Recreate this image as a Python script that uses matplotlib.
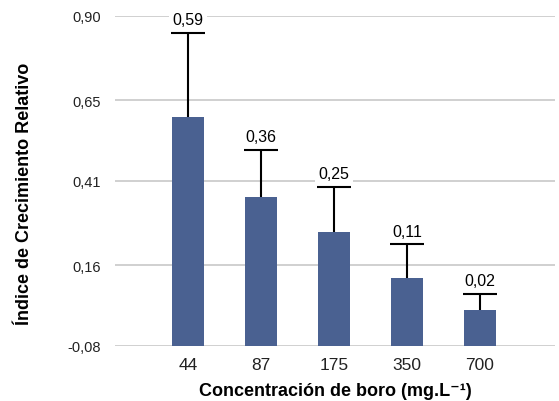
import matplotlib
matplotlib.use("Agg")
import matplotlib.pyplot as plt

plt.rcParams['font.family'] = ['Liberation Sans', 'DejaVu Sans']

# data
concentraciones = ['44', '87', '175', '350', '700']
icr = [0.599, 0.362, 0.257, 0.121, 0.026]
icr_err = [0.251, 0.141, 0.135, 0.101, 0.049]
etiquetas = ['0,59', '0,36', '0,25', '0,11', '0,02']
y_ticks = [-0.08, 0.16, 0.41, 0.65, 0.90]
y_tick_labels = ['-0,08', '0,16', '0,41', '0,65', '0,90']

base = -0.08
bar_color = '#4a6191'

fig = plt.figure(figsize=(5.59, 4.02), dpi=100)
ax = fig.add_axes([0.206, 0.137, 0.787, 0.821])

x = list(range(len(concentraciones)))
heights = [v - base for v in icr]
ax.bar(x, heights, bottom=base, width=0.43, color=bar_color, zorder=3)
eb = ax.errorbar(x, icr, yerr=[[0] * len(icr), icr_err], fmt='none',
                 ecolor='black', elinewidth=1.5, capsize=12.5, capthick=1.5,
                 zorder=4)
# only the upper cap is wanted
eb[1][0].remove()

# value labels above the caps, with white box to break gridlines
for xi, v, e, lab in zip(x, icr, icr_err, etiquetas):
    ax.annotate(lab, (xi, v + e), xytext=(0, 9.5), textcoords='offset points',
                ha='center', va='center', fontsize=11.5, zorder=5,
                bbox=dict(boxstyle='square,pad=0.2', fc='white', ec='none'))

ax.set_xlim(-1.0, 5.03)
ax.set_ylim(-0.08, 0.90)
ax.set_xticks(x)
ax.set_xticklabels(concentraciones)
ax.set_yticks(y_ticks)
ax.set_yticklabels(y_tick_labels)
ax.tick_params(axis='both', length=0, colors='#222222')
ax.tick_params(axis='x', pad=8, labelsize=12.5)
ax.tick_params(axis='y', pad=10, labelsize=10.5)

ax.grid(True, axis='y', color='#c8c8c8', linewidth=1.2, zorder=0)
for s in ax.spines.values():
    s.set_visible(False)

ax.set_xlabel('Concentración de boro (mg.L⁻¹)', fontsize=13,
              fontweight='bold', labelpad=7)
ax.set_ylabel('Índice de Crecimiento Relativo', fontsize=13,
              fontweight='bold', labelpad=25, y=0.465)

fig.savefig('out.png', dpi=100)
